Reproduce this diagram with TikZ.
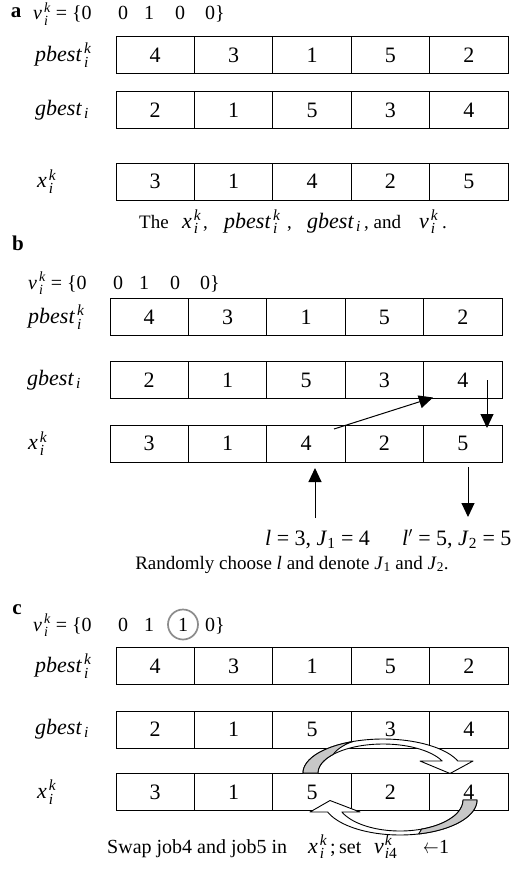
\documentclass[tikz,border=0pt]{standalone}
\usepackage{amsmath}
\usepackage{fontspec}
\setmainfont{Liberation Serif}
\usetikzlibrary{arrows.meta}

\newcommand{\ik}{$_{\kern2pt\textit{i}}^{\kern2pt\textit{k}}$}
\newcommand{\isub}{$_{\kern2pt\textit{i}}$}
\newcommand{\cellrow}[4]{%
  \foreach \v [count=\j] in {#4} {\node[cellbox] (#1\j) at ({#2+(\j-0.5)*78.4},#3) {\v};}}

\begin{document}
\begin{tikzpicture}[x=1pt,y=-1pt,
  cellbox/.style={draw, line width=1pt, minimum width=78.4pt, minimum height=37pt, inner sep=0pt, font=\fontsize{22}{26}\selectfont},
  rowlab/.style={anchor=west, inner sep=0pt, font=\fontsize{22}{26}\selectfont},
  vtxt/.style={inner sep=0pt, font=\fontsize{20}{24}\selectfont, anchor=base},
  panel/.style={inner sep=0pt, font=\fontsize{21}{24}\selectfont\bfseries},
  captxt/.style={inner sep=0pt, anchor=base, font=\fontsize{19}{22}\selectfont},
  capw/.style={inner sep=0pt, anchor=base west, font=\fontsize{19}{22}\selectfont},
  capm/.style={inner sep=0pt, anchor=base west, font=\fontsize{22}{26}\selectfont},
  arr/.style={line width=1pt, -{Triangle[length=14pt,width=13pt]}},
  blockarr/.style={fill=white, draw=black, line width=0.9pt, line join=round},
  shadepart/.style={fill=black!22, draw=black, line width=0.9pt, line join=round}
]
\useasboundingbox (0,0) rectangle (514,875);

% ---------- panel a ----------
\node[panel] (pa) at (16,13) {a};
\node[vtxt, anchor=base west] (va0) at (33,20) {\textit{v}\ik\ = \{0};
\node[vtxt] (va2) at (123,20) {0};
\node[vtxt] (va3) at (149,20) {1};
\node[vtxt] (va4) at (180,20) {0};
\node[vtxt, anchor=base west] (va5) at (205,20) {0\}};

\node[rowlab] (pla) at (35,55) {\textit{pbest}\ik};
\cellrow{pa}{116}{55}{4,3,1,5,2}
\node[rowlab] (gla) at (35,110) {\textit{gbest}\isub};
\cellrow{ga}{116}{110}{2,1,5,3,4}
\node[rowlab] (xla) at (37,181.5) {\textit{x}\ik};
\cellrow{xa}{116}{181.5}{3,1,4,2,5}

\node[capw] (ca1) at (139,228) {The};
\node[capm] (ca2) at (182,228) {\textit{x}\ik};
\node[capw] (ca3) at (203,228) {,};
\node[capm] (ca4) at (224,228) {\textit{pbest}\ik};
\node[capw] (ca5) at (287,228) {,};
\node[capm] (ca6) at (307,228) {\textit{gbest}\isub};
\node[capw] (ca7) at (364,228) {, and};
\node[capm] (ca8) at (419,228) {\textit{v}\ik};
\node[capw] (ca9) at (442,228) {.};

% ---------- panel b ----------
\node[panel] (pb) at (18,243) {b};
\node[vtxt, anchor=base west] (vb0) at (28,289) {\textit{v}\ik\ = \{0};
\node[vtxt] (vb2) at (118,289) {0};
\node[vtxt] (vb3) at (144,289) {1};
\node[vtxt] (vb4) at (175,289) {0};
\node[vtxt, anchor=base west] (vb5) at (200,289) {0\}};

\node[rowlab] (plb) at (28,317) {\textit{pbest}\ik};
\cellrow{pb}{110}{317}{4,3,1,5,2}
\node[rowlab] (glb) at (27,380) {\textit{gbest}\isub};
\cellrow{gb}{110}{380}{2,1,5,3,4}
\node[rowlab] (xlb) at (28,443.5) {\textit{x}\ik};
\cellrow{xb}{110}{443.5}{3,1,4,2,5}

\coordinate (d1) at (334,429);
\coordinate (d2) at (433,397.5);
\draw[arr] (d1) -- (d2);
\coordinate (r1) at (487,380);
\coordinate (r2) at (487,428);
\draw[arr] (r1) -- (r2);

\node[rowlab, anchor=base west] (lab1) at (265,545) {\textit{l} = 3, \textit{J}$_{\text{1}}$ = 4};
\node[rowlab, anchor=base west] (lab2) at (402,545) {\textit{l}$'$ = 5, \textit{J}$_{\text{2}}$ = 5};
\coordinate (u1) at (315,518);
\coordinate (u2) at (315,468);
\draw[arr] (u1) -- (u2);
\coordinate (w1) at (468,467);
\coordinate (w2) at (468,517);
\draw[arr] (w1) -- (w2);

\node[captxt] (capb) at (292,569) {Randomly choose \textit{l} and denote \textit{J}$_{\text{1}}$ and \textit{J}$_{\text{2}}$.};

% ---------- panel c ----------
\node[panel] (pc) at (17,610) {c};
\node[vtxt, anchor=base west] (vc0) at (33,631) {\textit{v}\ik\ = \{0};
\node[vtxt] (vc2) at (123,631) {0};
\node[vtxt] (vc3) at (149,631) {1};
\node[vtxt] (vc4) at (183,631) {1};
\node[vtxt, anchor=base west] (vc5) at (205,631) {0\}};
\node[draw=black!45, line width=1.7pt, circle, minimum size=30pt, inner sep=0pt] (circ) at (183,624.5) {};

\node[rowlab] (plc) at (35,666) {\textit{pbest}\ik};
\cellrow{pc}{116}{666}{4,3,1,5,2}
\node[rowlab] (glc) at (35,729.5) {\textit{gbest}\isub};
\cellrow{gc}{116}{729.5}{2,1,5,3,4}
\node[rowlab] (xlc) at (37,792) {\textit{x}\ik};
\cellrow{xc}{116}{792}{3,1,5,2,4}

% upper curved block arrow (job moves right)
\path[blockarr]
  plot[domain=180:20.66, samples=50] ({383+80*cos(\x)},{773-34*sin(\x)})
  -- (473,761) -- (450,773.5) -- (420,761) -- (442.2,761)
  -- plot[domain=24.44:180, samples=50] ({383+65*cos(\x)},{773-29*sin(\x)}) -- cycle;
\path[shadepart]
  plot[domain=180:112, samples=25] ({383+80*cos(\x)},{773-34*sin(\x)})
  .. controls (345,744) and (337,749) .. (333.2,754.4)
  -- plot[domain=140:180, samples=15] ({383+65*cos(\x)},{773-29*sin(\x)}) -- cycle;

% lower curved block arrow (job moves left)
\path[blockarr]
  plot[domain=0:159.95, samples=50] ({400+77*cos(\x)},{800+35*sin(\x)})
  -- (310,812) -- (330,800.5) -- (360,812) -- (341.9,812)
  -- plot[domain=157.2:0, samples=50] ({400+63*cos(\x)},{800+31*sin(\x)}) -- cycle;
\path[shadepart]
  plot[domain=0:76, samples=25] ({400+77*cos(\x)},{800+35*sin(\x)})
  -- plot[domain=70:0, samples=25] ({400+63*cos(\x)},{800+31*sin(\x)}) -- cycle;

\node[capw, font=\fontsize{20}{24}\selectfont] (cc1) at (107,853) {Swap job4 and job5 in};
\node[capm] (cc2) at (308,853) {\textit{x}\ik};
\node[capw, font=\fontsize{20}{24}\selectfont] (cc3) at (330,853) {;};
\node[capw, font=\fontsize{20}{24}\selectfont] (cc4) at (339,853) {set};
\node[capm] (cc5) at (374,853) {\textit{v}$_{\kern1pt\textit{i}\text{4}}^{\kern1pt\textit{k}}$};
\node[capw, font=\fontsize{20}{24}\selectfont] (cc6) at (423,853) {\scalebox{0.75}[1]{$\leftarrow$}};
\node[capw, font=\fontsize{20}{24}\selectfont] (cc7) at (439,853) {1};
\end{tikzpicture}
\end{document}
